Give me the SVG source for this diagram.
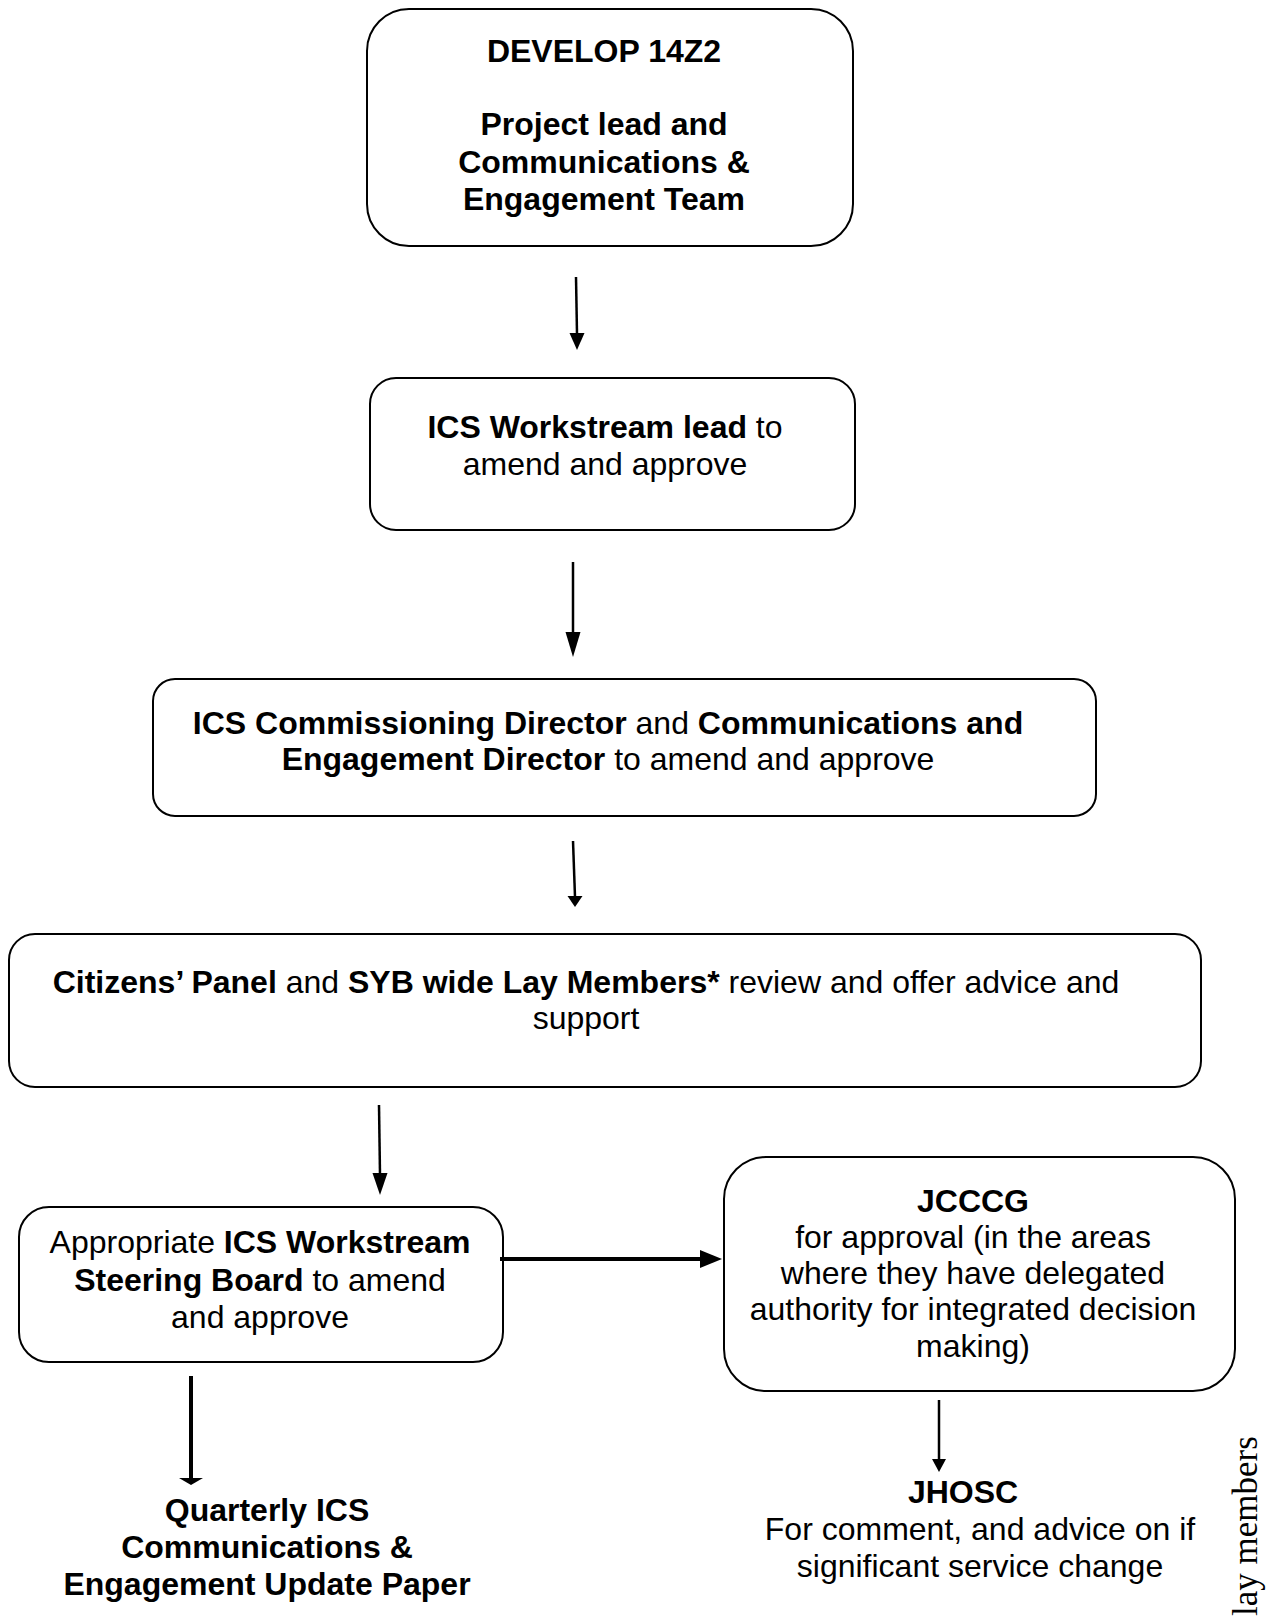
<svg xmlns="http://www.w3.org/2000/svg" width="1272" height="1624" viewBox="0 0 1272 1624">
<style>
  .box { fill: #ffffff; stroke: #000000; stroke-width: 2; }
  .t { font-family: "Liberation Sans", Arial, sans-serif; font-size: 32px; fill: #000000; text-anchor: middle; }
  .b { font-weight: bold; }
  .ln { stroke: #000000; stroke-width: 2.5; fill: none; }
  .lnk { stroke: #000000; stroke-width: 4; fill: none; }
  .hd { fill: #000000; stroke: none; }
  .note { font-family: "Liberation Serif", "Times New Roman", serif; font-size: 35px; fill: #000000; }
</style>
<rect width="1272" height="1624" fill="#ffffff"/>

<g id="node-develop">
  <rect class="box" x="367" y="9" width="486" height="237" rx="42" ry="42"/>
  <text class="t b" x="604" y="62">DEVELOP 14Z2</text>
  <text class="t b" x="604" y="135">Project lead and</text>
  <text class="t b" x="604" y="173">Communications &amp;</text>
  <text class="t b" x="604" y="210">Engagement Team</text>
</g>

<g id="node-workstream-lead">
  <rect class="box" x="370" y="378" width="485" height="152" rx="26" ry="26"/>
  <text class="t" x="605" y="438"><tspan class="b">ICS Workstream lead</tspan> to</text>
  <text class="t" x="605" y="475">amend and approve</text>
</g>

<g id="node-directors">
  <rect class="box" x="153" y="679" width="943" height="137" rx="22" ry="22"/>
  <text class="t" x="608" y="734"><tspan class="b">ICS Commissioning Director</tspan> and <tspan class="b">Communications and</tspan></text>
  <text class="t" x="608" y="770"><tspan class="b">Engagement Director</tspan> to amend and approve</text>
</g>

<g id="node-citizens">
  <rect class="box" x="9" y="934" width="1192" height="153" rx="26" ry="26"/>
  <text class="t" x="586" y="993"><tspan class="b">Citizens’ Panel</tspan> and <tspan class="b">SYB wide Lay Members*</tspan> review and offer advice and</text>
  <text class="t" x="586" y="1029">support</text>
</g>

<g id="node-steering-board">
  <rect class="box" x="19" y="1207" width="484" height="155" rx="30" ry="30"/>
  <text class="t" x="260" y="1253">Appropriate <tspan class="b">ICS Workstream</tspan></text>
  <text class="t" x="260" y="1291"><tspan class="b">Steering Board</tspan> to amend</text>
  <text class="t" x="260" y="1328">and approve</text>
</g>

<g id="node-jcccg">
  <rect class="box" x="724" y="1157" width="511" height="234" rx="42" ry="42"/>
  <text class="t b" x="973" y="1212">JCCCG</text>
  <text class="t" x="973" y="1248">for approval (in the areas</text>
  <text class="t" x="973" y="1284">where they have delegated</text>
  <text class="t" x="973" y="1320">authority for integrated decision</text>
  <text class="t" x="973" y="1357">making)</text>
</g>

<g id="node-quarterly-paper">
  <text class="t b" x="267" y="1521">Quarterly ICS</text>
  <text class="t b" x="267" y="1558">Communications &amp;</text>
  <text class="t b" x="267" y="1595">Engagement Update Paper</text>
</g>

<g id="node-jhosc">
  <text class="t b" x="963" y="1503">JHOSC</text>
  <text class="t" x="980" y="1540">For comment, and advice on if</text>
  <text class="t" x="980" y="1577">significant service change</text>
</g>

<g id="note-lay-members">
  <text class="note" x="1257" y="1616" transform="rotate(-90 1257 1616)">lay members</text>
</g>

<g id="connectors">
  <line class="ln" x1="576" y1="277" x2="577" y2="334"/>
  <polygon class="hd" points="569.5,333 584.5,333 577,350"/>

  <line class="ln" x1="573" y1="562" x2="573" y2="634"/>
  <polygon class="hd" points="565.5,632 580.5,632 573,657"/>

  <line class="ln" x1="573" y1="841" x2="575" y2="897"/>
  <polygon class="hd" points="567.5,896 582.5,896 575,907"/>

  <line class="ln" x1="379" y1="1105" x2="380" y2="1175"/>
  <polygon class="hd" points="372.5,1173 387.5,1173 380,1195"/>

  <line class="lnk" x1="500" y1="1259" x2="702" y2="1259"/>
  <polygon class="hd" points="700,1250 722,1259 700,1268"/>

  <line class="lnk" x1="191" y1="1376" x2="191" y2="1480"/>
  <polygon class="hd" points="179,1478 203,1478 191,1485"/>

  <line class="ln" x1="939" y1="1400" x2="939" y2="1461"/>
  <polygon class="hd" points="932,1459 946,1459 939,1472"/>
</g>
</svg>
